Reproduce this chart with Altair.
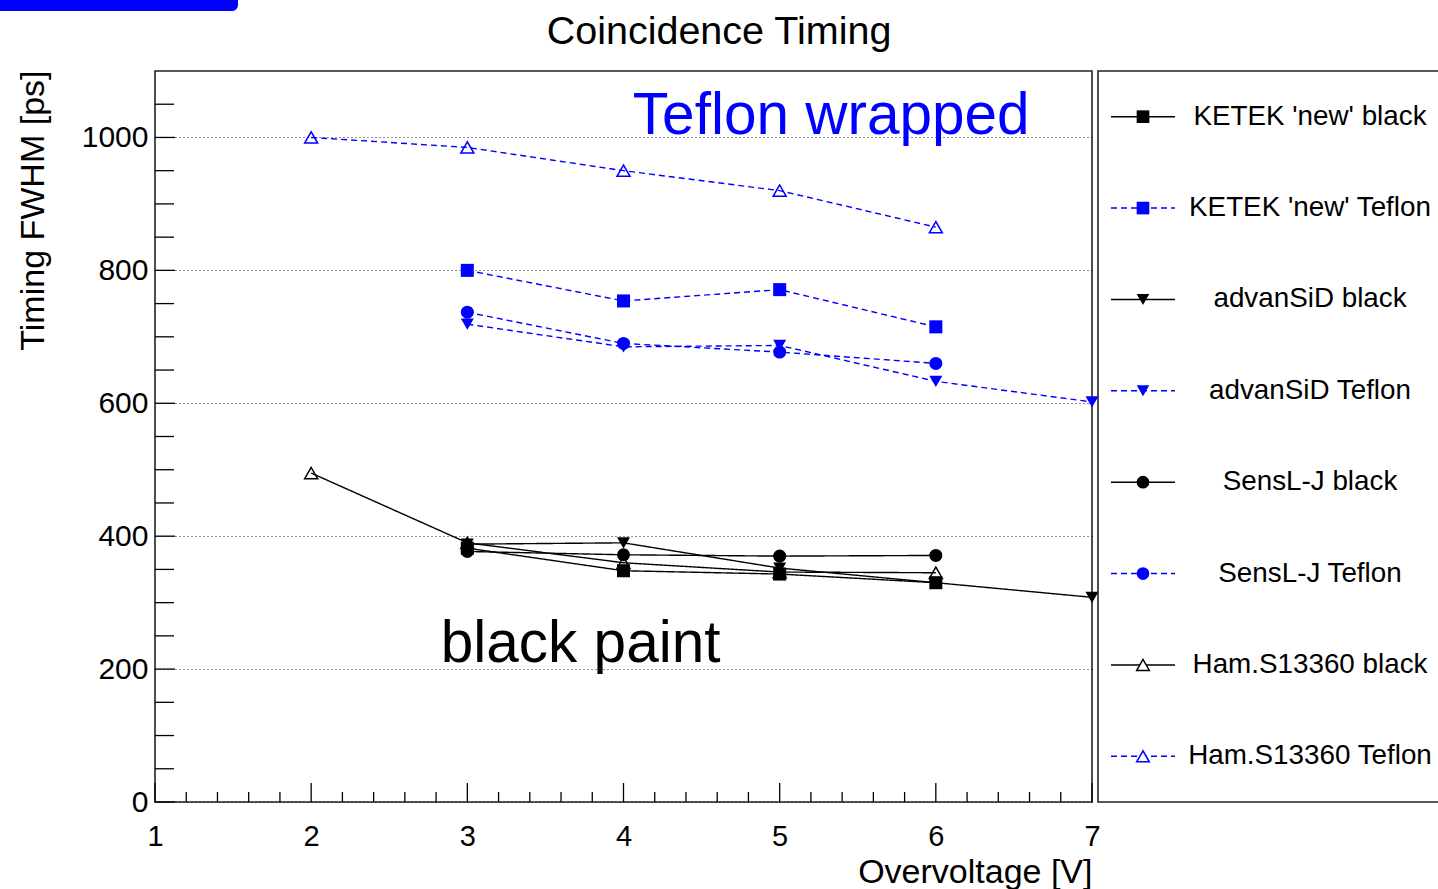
import altair as alt
import pandas as pd

# ---------------- data ----------------
series_names = ["KETEK 'new' black", "KETEK 'new' Teflon", "advanSiD black", "advanSiD Teflon",
                "SensL-J black", "SensL-J Teflon", "Ham.S13360 black", "Ham.S13360 Teflon"]
series_sipm = ["KETEK", "KETEK", "advanSiD", "advanSiD", "SensL-J", "SensL-J", "Ham", "Ham"]
series_coat = ["black", "Teflon", "black", "Teflon", "black", "Teflon", "black", "Teflon"]

ketek_black_x = [3, 4, 5, 6]
ketek_black_y = [382, 348, 343, 330]
ketek_teflon_x = [3, 4, 5, 6]
ketek_teflon_y = [800, 754, 771, 715]
advansid_black_x = [3, 4, 5, 6, 7]
advansid_black_y = [388, 390, 352, 330, 308]
advansid_teflon_x = [3, 4, 5, 6, 7]
advansid_teflon_y = [719, 685, 687, 633, 602]
sensl_black_x = [3, 4, 5, 6]
sensl_black_y = [377, 372, 370, 371]
sensl_teflon_x = [3, 4, 5, 6]
sensl_teflon_y = [737, 690, 677, 660]
ham_black_x = [2, 3, 4, 5, 6]
ham_black_y = [495, 390, 360, 346, 345]
ham_teflon_x = [2, 3, 4, 5, 6]
ham_teflon_y = [1000, 985, 950, 920, 865]

series_x = [ketek_black_x, ketek_teflon_x, advansid_black_x, advansid_teflon_x,
            sensl_black_x, sensl_teflon_x, ham_black_x, ham_teflon_x]
series_y = [ketek_black_y, ketek_teflon_y, advansid_black_y, advansid_teflon_y,
            sensl_black_y, sensl_teflon_y, ham_black_y, ham_teflon_y]

x_label_values = [1, 2, 3, 4, 5, 6, 7]
x_minor_ticks = [1.2, 1.4, 1.6, 1.8, 2.2, 2.4, 2.6, 2.8, 3.2, 3.4, 3.6, 3.8,
                 4.2, 4.4, 4.6, 4.8, 5.2, 5.4, 5.6, 5.8, 6.2, 6.4, 6.6, 6.8]
y_label_values = [0, 200, 400, 600, 800, 1000]
y_minor_ticks = [50, 100, 150, 250, 300, 350, 450, 500, 550, 650, 700, 750,
                 850, 900, 950, 1050]

annot_text = ["Teflon wrapped", "black paint"]
annot_x = [4.06, 2.83]
annot_y = [1005, 211]
annot_color = ["#0000ff", "#000000"]

chart_title = ["Coincidence Timing"]

# ---------------- tables ----------------
rows = []
for name, sp, ct, xs, ys in zip(series_names, series_sipm, series_coat, series_x, series_y):
    for xv, yv in zip(xs, ys):
        rows.append({"series": name, "sipm": sp, "coating": ct, "x": xv, "y": yv})
df = pd.DataFrame(rows)

legend_df = pd.DataFrame({"label": series_names, "sipm": series_sipm,
                          "coating": series_coat, "row": list(range(len(series_names)))})
annot_df = pd.DataFrame({"text": annot_text, "x": annot_x, "y": annot_y, "col": annot_color})

FONT = "Liberation Sans"
W, H = 937, 731

xscale = alt.Scale(domain=[1, 7], nice=False, zero=False)
yscale = alt.Scale(domain=[0, 1100], nice=False, zero=True)

xaxis = alt.Axis(values=x_label_values, format="d", ticks=False, domain=False, grid=False,
                 labelFont=FONT, labelFontSize=29, labelColor="black", labelPadding=20,
                 labelFlush=False, labelOverlap=False,
                 title="Overvoltage [V]", titleFont=FONT, titleFontSize=34,
                 titleFontWeight="normal", titleColor="black",
                 titleX=W, titleY=80, titleAlign="right", titleBaseline="alphabetic")
yaxis = alt.Axis(values=y_label_values, format="d", ticks=False, domain=False, grid=True,
                 gridDash=[1, 3], gridColor="black", gridWidth=1, gridOpacity=0.85,
                 labelFont=FONT, labelFontSize=30, labelColor="black", labelPadding=7,
                 labelFlush=False, labelOverlap=False,
                 title="Timing FWHM [ps]", titleFont=FONT, titleFontSize=34,
                 titleFontWeight="normal", titleColor="black", titleAngle=270,
                 titleX=-122, titleY=-1, titleAlign="right", titleBaseline="middle")

X = alt.X("x:Q", scale=xscale, axis=xaxis)
Y = alt.Y("y:Q", scale=yscale, axis=yaxis)

coat_color = alt.Color("coating:N", scale=alt.Scale(domain=["black", "Teflon"],
                                                    range=["black", "#0000ff"]), legend=None)
coat_dash = alt.StrokeDash("coating:N", scale=alt.Scale(domain=["black", "Teflon"],
                                                        range=[[1, 0], [6, 4]]), legend=None)
shape_enc = alt.Shape("sipm:N", scale=alt.Scale(domain=["KETEK", "advanSiD", "SensL-J", "Ham"],
                                                range=["square", "triangle-down", "circle", "triangle-up"]),
                      legend=None)

base = alt.Chart(df)

lines = base.mark_line(strokeWidth=1.4).encode(
    x=X, y=Y, color=coat_color, strokeDash=coat_dash, detail="series:N", order="x:Q")

pts_filled = base.transform_filter("datum.sipm != 'Ham'").mark_point(
    filled=True, size=170, opacity=1).encode(x=X, y=Y, color=coat_color, shape=shape_enc)

pts_open = base.transform_filter("datum.sipm == 'Ham'").mark_point(
    filled=False, size=170, strokeWidth=1.5, opacity=1).encode(
    x=X, y=Y, color=coat_color, shape=shape_enc)

# axis ticks (inward, ROOT style)
xt_major = alt.Chart(pd.DataFrame({"x": x_label_values})).mark_rule(
    color="black", strokeWidth=1.3).encode(x=X, y=alt.value(H), y2=alt.value(H - 19))
xt_minor = alt.Chart(pd.DataFrame({"x": x_minor_ticks})).mark_rule(
    color="black", strokeWidth=1.3).encode(x=X, y=alt.value(H), y2=alt.value(H - 10))
yt_major = alt.Chart(pd.DataFrame({"y": y_label_values})).mark_rule(
    color="black", strokeWidth=1.3).encode(y=Y, x=alt.value(0), x2=alt.value(20))
yt_minor = alt.Chart(pd.DataFrame({"y": y_minor_ticks})).mark_rule(
    color="black", strokeWidth=1.3).encode(y=Y, x=alt.value(0), x2=alt.value(19))

annots = alt.Chart(annot_df).mark_text(
    align="left", baseline="alphabetic", font=FONT, fontSize=58.5).encode(
    x=alt.X("x:Q", scale=xscale, axis=xaxis), y=alt.Y("y:Q", scale=yscale, axis=yaxis),
    text="text:N", color=alt.Color("col:N", scale=None))

inner = alt.layer(lines, pts_filled, pts_open, xt_major, xt_minor, yt_major, yt_minor, annots)

# ---------------- legend panel ----------------
LY = alt.Y("row:Q", scale=alt.Scale(domain=[-0.5, 7.5], reverse=True, nice=False, zero=False), axis=None)
leg = alt.Chart(legend_df)
leg_dash = alt.StrokeDash("coating:N", scale=alt.Scale(domain=["black", "Teflon"],
                                                       range=[[1, 0], [5, 4]]), legend=None)
leg_lines = leg.mark_rule(strokeWidth=1.4).encode(
    x=alt.value(956), x2=alt.value(1020), y=LY, color=coat_color, strokeDash=leg_dash)
leg_pts_f = leg.transform_filter("datum.sipm != 'Ham'").mark_point(
    filled=True, size=160, opacity=1).encode(x=alt.value(988), y=LY, color=coat_color, shape=shape_enc)
leg_pts_o = leg.transform_filter("datum.sipm == 'Ham'").mark_point(
    filled=False, size=160, strokeWidth=1.5, opacity=1, fill="white").encode(
    x=alt.value(988), y=LY, color=coat_color, shape=shape_enc)
leg_text = leg.mark_text(align="center", baseline="middle", font=FONT, fontSize=27.8,
                         color="black").encode(x=alt.value(1155), y=LY, text="label:N")
leg_frame = alt.Chart(pd.DataFrame({"a": [0]})).mark_rect(
    fill="transparent", stroke="#222", strokeWidth=1.6).encode(
    x=alt.value(943), x2=alt.value(1300), y=alt.value(0), y2=alt.value(H))
blue_bar = alt.Chart(pd.DataFrame({"a": [0]})).mark_rect(
    color="#0000ff", cornerRadiusBottomRight=6).encode(
    x=alt.value(-170), x2=alt.value(83), y=alt.value(-90), y2=alt.value(-60))
title_mark = alt.Chart(pd.DataFrame({"t": chart_title})).mark_text(
    align="center", baseline="alphabetic", font=FONT, fontSize=39.5, color="black").encode(
    x=alt.value(564), y=alt.value(-27), text="t:N")

legend_layer = alt.layer(leg_frame, leg_lines, leg_pts_f, leg_pts_o, leg_text, blue_bar, title_mark)

chart = alt.layer(inner, legend_layer).resolve_scale(y="independent").properties(
    width=W, height=H,
    autosize=alt.AutoSizeParams(type="none"),
    padding={"left": 155, "top": 71, "right": 346, "bottom": 87},
).configure(background="white").configure_view(stroke="#222", strokeWidth=1.6)

chart.save("out.html", embed_options={"renderer": "svg", "actions": False})
